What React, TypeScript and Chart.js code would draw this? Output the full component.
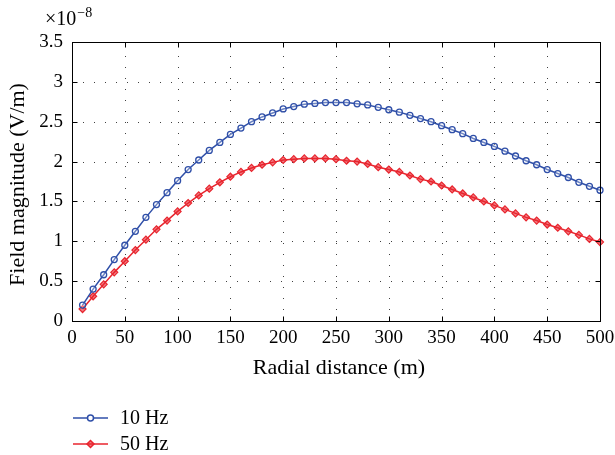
import React, { useEffect, useRef } from "react";
import { Chart, registerables } from "chart.js";

Chart.register(...registerables);

const distances = [
  10, 20, 30, 40, 50, 60, 70, 80, 90, 100,
  110, 120, 130, 140, 150, 160, 170, 180, 190, 200,
  210, 220, 230, 240, 250, 260, 270, 280, 290, 300,
  310, 320, 330, 340, 350, 360, 370, 380, 390, 400,
  410, 420, 430, 440, 450, 460, 470, 480, 490, 500,
];

// Field magnitude (×10^-8 V/m)
const field10Hz = [
  0.2, 0.4, 0.58, 0.77, 0.95, 1.125, 1.3, 1.46, 1.61, 1.76,
  1.9, 2.02, 2.14, 2.24, 2.34, 2.42, 2.5, 2.56, 2.61, 2.66,
  2.69, 2.72, 2.73, 2.74, 2.74, 2.74, 2.725, 2.71, 2.68, 2.65,
  2.62, 2.58, 2.54, 2.5, 2.45, 2.4, 2.35, 2.29, 2.24, 2.19,
  2.13, 2.07, 2.01, 1.96, 1.9, 1.85, 1.8, 1.74, 1.69, 1.64,
];

const field50Hz = [
  0.15, 0.31, 0.46, 0.61, 0.75, 0.89, 1.02, 1.15, 1.26, 1.375,
  1.48, 1.575, 1.66, 1.74, 1.81, 1.87, 1.92, 1.96, 1.99, 2.02,
  2.03, 2.04, 2.04, 2.04, 2.03, 2.01, 2.0, 1.97, 1.93, 1.9,
  1.87, 1.825, 1.78, 1.75, 1.7, 1.65, 1.6, 1.55, 1.5, 1.45,
  1.4, 1.35, 1.3, 1.26, 1.21, 1.17, 1.125, 1.08, 1.03, 0.99,
];

const seriesLabels = ["10 Hz", "50 Hz"];
const xTicks = [0, 50, 100, 150, 200, 250, 300, 350, 400, 450, 500];
const yTicks = [0, 0.5, 1, 1.5, 2, 2.5, 3, 3.5];

const xTitle = "Radial distance (m)";
const yTitle = "Field magnitude (V/m)";
const exponentBase = "×10";
const exponentPower = "−8";

const BLUE = "#2f4fa8";
const RED = "#e8252e";
const FONT = "'Liberation Serif', 'DejaVu Serif', serif";

const decorPlugin = {
  id: "decor",
  beforeDatasetsDraw(chart: any) {
    const { ctx, chartArea: a, scales } = chart;
    const xs = scales.x;
    const ys = scales.y;
    ctx.save();
    ctx.strokeStyle = "rgba(0,0,0,0.75)";
    ctx.lineWidth = 1;
    ctx.setLineDash([1, 10]);
    xTicks.forEach((v) => {
      if (v === xTicks[0] || v === xTicks[xTicks.length - 1]) return;
      const px = Math.round(xs.getPixelForValue(v)) + 0.5;
      ctx.beginPath();
      ctx.moveTo(px, a.bottom);
      ctx.lineTo(px, a.top);
      ctx.stroke();
    });
    yTicks.forEach((v) => {
      if (v === yTicks[0] || v === yTicks[yTicks.length - 1]) return;
      const py = Math.round(ys.getPixelForValue(v)) + 0.5;
      ctx.beginPath();
      ctx.moveTo(a.left, py);
      ctx.lineTo(a.right, py);
      ctx.stroke();
    });
    ctx.restore();
  },
  afterDatasetsDraw(chart: any) {
    const { ctx, chartArea: a, scales } = chart;
    const xs = scales.x;
    const ys = scales.y;
    ctx.save();
    ctx.strokeStyle = "#000";
    ctx.lineWidth = 1;
    ctx.setLineDash([]);
    const L = Math.round(a.left) + 0.5;
    const R = Math.round(a.right) + 0.5;
    const T = Math.round(a.top) + 0.5;
    const B = Math.round(a.bottom) + 0.5;
    ctx.strokeRect(L, T, R - L, B - T);
    const tl = 5;
    ctx.beginPath();
    xTicks.forEach((v) => {
      const px = Math.round(xs.getPixelForValue(v)) + 0.5;
      ctx.moveTo(px, B);
      ctx.lineTo(px, B - tl);
      ctx.moveTo(px, T);
      ctx.lineTo(px, T + tl);
    });
    yTicks.forEach((v) => {
      const py = Math.round(ys.getPixelForValue(v)) + 0.5;
      ctx.moveTo(L, py);
      ctx.lineTo(L + tl, py);
      ctx.moveTo(R, py);
      ctx.lineTo(R - tl, py);
    });
    ctx.stroke();
    ctx.restore();
  },
  afterDraw(chart: any) {
    const { ctx, chartArea: a } = chart;
    ctx.save();
    ctx.fillStyle = "#000";
    // x title
    ctx.font = `22px ${FONT}`;
    ctx.textAlign = "center";
    ctx.textBaseline = "middle";
    ctx.fillText(xTitle, (a.left + a.right) / 2 + 3, 368);
    // y title
    ctx.save();
    ctx.translate(18, (a.top + a.bottom) / 2 + 3);
    ctx.rotate(-Math.PI / 2);
    ctx.fillText(yTitle, 0, 0);
    ctx.restore();
    // exponent
    ctx.textAlign = "left";
    ctx.textBaseline = "alphabetic";
    ctx.font = `20px ${FONT}`;
    ctx.fillText(exponentBase, 45, 25);
    const w = ctx.measureText(exponentBase).width;
    ctx.font = `14px ${FONT}`;
    ctx.fillText(exponentPower, 45 + w + 1, 17);
    // legend
    const rows = [
      { y: 418, color: BLUE, style: "circle" },
      { y: 444, color: RED, style: "diamond" },
    ];
    rows.forEach((r, i) => {
      ctx.strokeStyle = r.color;
      ctx.lineWidth = 1.5;
      ctx.beginPath();
      ctx.moveTo(73, r.y);
      ctx.lineTo(108, r.y);
      ctx.stroke();
      ctx.beginPath();
      if (r.style === "circle") {
        ctx.fillStyle = "#fff";
        ctx.arc(90.5, r.y, 3, 0, Math.PI * 2);
        ctx.fill();
        ctx.stroke();
      } else {
        ctx.fillStyle = "rgba(232,37,46,0.6)";
        ctx.moveTo(90.5, r.y - 3.5);
        ctx.lineTo(94, r.y);
        ctx.lineTo(90.5, r.y + 3.5);
        ctx.lineTo(87, r.y);
        ctx.closePath();
        ctx.fill();
        ctx.stroke();
      }
      ctx.fillStyle = "#000";
      ctx.font = `20px ${FONT}`;
      ctx.textAlign = "left";
      ctx.textBaseline = "middle";
      ctx.fillText(seriesLabels[i], 120, r.y + 1);
    });
    ctx.restore();
  },
};

export default function App() {
  const ref = useRef<HTMLCanvasElement | null>(null);
  useEffect(() => {
    if (!ref.current) return;
    const tickFont = { family: FONT, size: 19 };
    const chart = new Chart(ref.current, {
      type: "line",
      data: {
        datasets: [
          {
            label: seriesLabels[0],
            data: distances.map((d, i) => ({ x: d, y: field10Hz[i] })),
            borderColor: BLUE,
            backgroundColor: "rgba(255,255,255,0)",
            borderWidth: 1.5,
            pointStyle: "circle",
            pointRadius: 3,
            pointBorderWidth: 1.3,
            pointBorderColor: BLUE,
            pointBackgroundColor: "rgba(255,255,255,0.3)",
            tension: 0,
            clip: false,
          },
          {
            label: seriesLabels[1],
            data: distances.map((d, i) => ({ x: d, y: field50Hz[i] })),
            borderColor: RED,
            backgroundColor: "rgba(232,37,46,0.6)",
            borderWidth: 1.5,
            pointStyle: "rectRot",
            pointRadius: 3.5,
            pointBorderWidth: 1.2,
            pointBorderColor: RED,
            pointBackgroundColor: "rgba(232,37,46,0.6)",
            tension: 0,
            clip: false,
          },
        ] as any,
      },
      options: {
        animation: false,
        responsive: false,
        layout: { padding: { left: 0, top: 42, right: 15, bottom: 0 } },
        plugins: { legend: { display: false }, tooltip: { enabled: false } },
        scales: {
          x: {
            type: "linear",
            min: 0,
            max: 500,
            afterBuildTicks: (s: any) => {
              s.ticks = xTicks.map((v) => ({ value: v }));
            },
            ticks: {
              font: tickFont,
              color: "#000",
              padding: 6,
              maxRotation: 0,
              autoSkip: false,
              callback: (v: any) => String(v),
            },
            grid: { display: false, drawTicks: false },
            border: { display: false },
            afterFit: (s: any) => {
              s.height = 134;
              s.paddingLeft = 0;
              s.paddingRight = 0;
            },
          },
          y: {
            type: "linear",
            min: 0,
            max: 3.5,
            afterBuildTicks: (s: any) => {
              s.ticks = yTicks.map((v) => ({ value: v }));
            },
            ticks: {
              font: tickFont,
              color: "#000",
              padding: 9,
              autoSkip: false,
              callback: (v: any) => String(Math.round(Number(v) * 10) / 10),
            },
            grid: { display: false, drawTicks: false },
            border: { display: false },
            afterFit: (s: any) => {
              s.width = 72;
              s.paddingTop = 0;
              s.paddingBottom = 0;
            },
          },
        },
      } as any,
      plugins: [decorPlugin],
    });
    return () => chart.destroy();
  }, []);
  return (
    <div style={{ position: "absolute", left: 0, top: 0, width: 615, height: 455, background: "#fff" }}>
      <canvas ref={ref} width={615} height={455} style={{ width: 615, height: 455 }} />
    </div>
  );
}
